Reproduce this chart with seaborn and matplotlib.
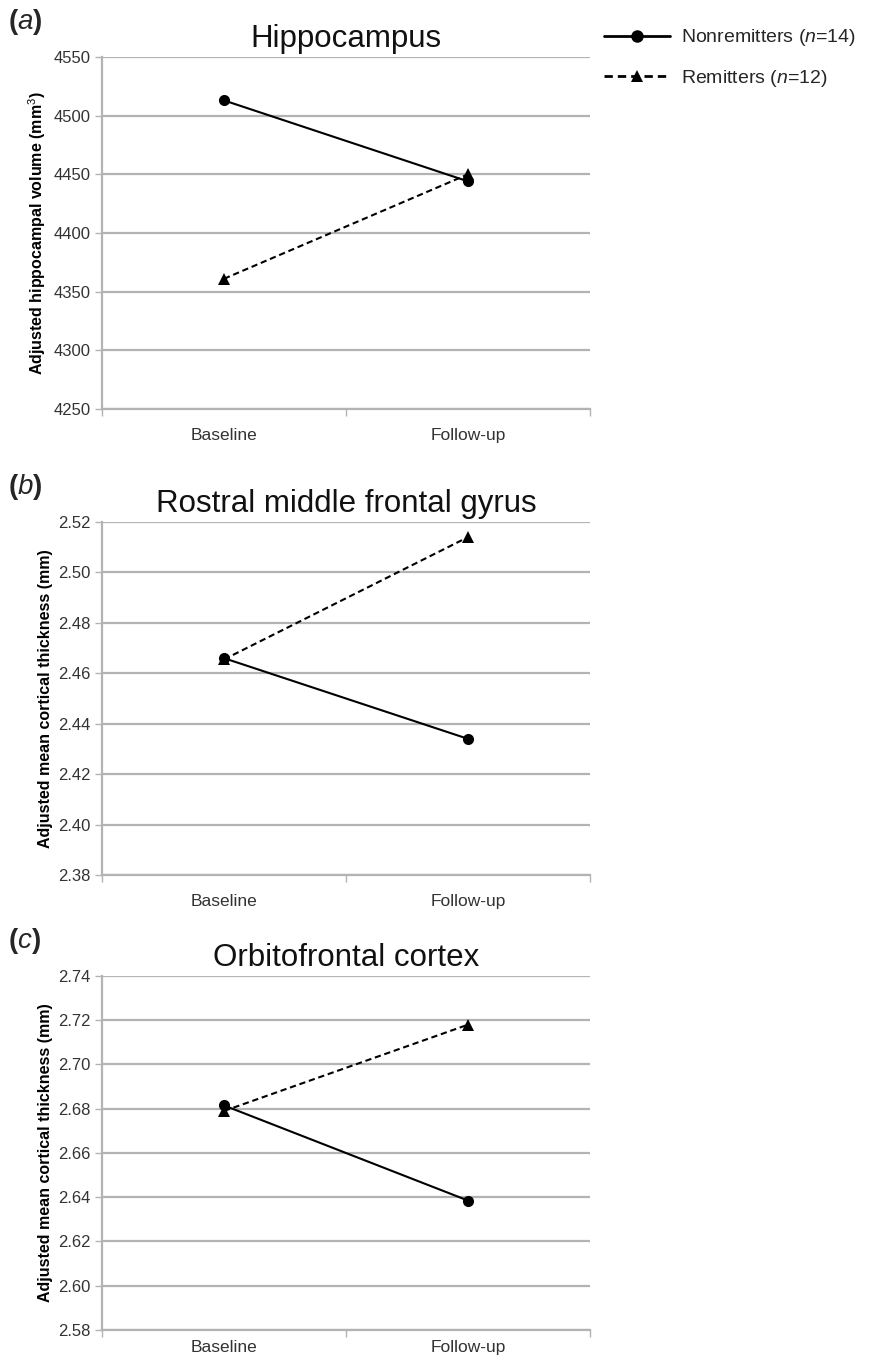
import matplotlib
matplotlib.use("Agg")
import matplotlib.pyplot as plt
import seaborn as sns
import pandas as pd
from matplotlib.ticker import FixedLocator, NullFormatter

sns.set_theme(style="white")
plt.rcParams['font.family'] = ['Liberation Sans', 'DejaVu Sans']
plt.rcParams['mathtext.fontset'] = 'custom'
plt.rcParams['mathtext.it'] = 'Liberation Sans:italic'
plt.rcParams['mathtext.bf'] = 'Liberation Sans:bold'
plt.rcParams['mathtext.rm'] = 'Liberation Sans'

# ---- data ----
timepoints = ["Baseline", "Follow-up"]
groups = ["Nonremitters", "Remitters"]
group_labels = ["Nonremitters ($\\it{n}$=14)", "Remitters ($\\it{n}$=12)"]

hippo_nonrem = [4513, 4444]
hippo_rem = [4361, 4450]
rmfg_nonrem = [2.466, 2.434]
rmfg_rem = [2.4655, 2.514]
ofc_nonrem = [2.6815, 2.6385]
ofc_rem = [2.679, 2.718]

panel_titles = ["Hippocampus", "Rostral middle frontal gyrus", "Orbitofrontal cortex"]
panel_letters = ["a", "b", "c"]
ylabels = ["Adjusted hippocampal volume (mm$^3$)",
           "Adjusted mean cortical thickness (mm)",
           "Adjusted mean cortical thickness (mm)"]
yticks_a = [4250, 4300, 4350, 4400, 4450, 4500, 4550]
yticks_b = [2.38, 2.40, 2.42, 2.44, 2.46, 2.48, 2.50, 2.52]
yticks_c = [2.58, 2.60, 2.62, 2.64, 2.66, 2.68, 2.70, 2.72, 2.74]
ytick_fmt = ["{:.0f}", "{:.2f}", "{:.2f}"]

panels = [(hippo_nonrem, hippo_rem, yticks_a),
          (rmfg_nonrem, rmfg_rem, yticks_b),
          (ofc_nonrem, ofc_rem, yticks_c)]

W, H = 872, 1361
fig = plt.figure(figsize=(W / 100, H / 100), dpi=100)

# axes boxes in pixel coordinates (left, top, right, bottom)
boxes = [(102, 57, 590, 409), (102, 522, 590, 875), (102, 976, 590, 1330)]
xpads = [14, 14, 7]

grid_col = "#b3b3b3"
text_col = "#333333"

handles = None
for i, ((nr, rm, yt), box) in enumerate(zip(panels, boxes)):
    l, t, r, b = box
    ax = fig.add_axes([l / W, 1 - b / H, (r - l) / W, (b - t) / H])
    df = pd.DataFrame({
        "time": timepoints * 2,
        "group": [groups[0]] * 2 + [groups[1]] * 2,
        "value": list(nr) + list(rm),
    })
    for yv in yt:
        ax.axhline(yv, color=grid_col, lw=1.6, zorder=0)
    sns.lineplot(data=df, x="time", y="value", hue="group", style="group",
                 palette={groups[0]: "black", groups[1]: "black"},
                 markers={groups[0]: "o", groups[1]: "^"},
                 dashes={groups[0]: "", groups[1]: (3, 1.8)},
                 markersize=8, linewidth=1.5, markeredgewidth=0,
                 sort=False, ax=ax, zorder=3)
    if handles is None:
        handles, _ = ax.get_legend_handles_labels()
    ax.get_legend().remove()

    ax.set_xlim(-0.5, 1.5)
    ax.set_ylim(yt[0], yt[-1])
    ax.set_yticks(yt)
    ax.set_yticklabels([ytick_fmt[i].format(v) for v in yt], fontsize=12, color=text_col)
    ax.xaxis.set_major_locator(FixedLocator([-0.5, 0.5, 1.5]))
    ax.xaxis.set_major_formatter(NullFormatter())
    ax.xaxis.set_minor_locator(FixedLocator([0, 1]))
    ax.set_xticklabels(timepoints, minor=True, fontsize=12.5, color=text_col)
    ax.tick_params(axis="x", which="major", length=5, width=1, color=grid_col, direction="out", bottom=True)
    ax.tick_params(axis="x", which="minor", length=0, pad=xpads[i], bottom=True)
    ax.tick_params(axis="y", length=5, width=1, color=grid_col, direction="out", left=True, pad=3)
    ax.set_xlabel("")
    ax.set_ylabel(ylabels[i], fontsize=11.5, fontweight="bold", color="black", labelpad=4)
    for s in ["top", "right"]:
        ax.spines[s].set_visible(False)
    for s in ["left", "bottom"]:
        ax.spines[s].set_color(grid_col)
        ax.spines[s].set_linewidth(1.6)
    ax.grid(False)

    ax.set_title(panel_titles[i], fontsize=22.5, color="#111111", pad=7)
    ax.annotate("($\\bf{\\it{" + panel_letters[i] + "}}$)", xy=(8 / W, 1 - (t - 20) / H),
                xycoords="figure fraction", fontsize=20, fontweight="bold", va="bottom", ha="left")

leg = fig.legend(handles, group_labels, loc="upper left",
                 bbox_to_anchor=(586 / W, 1 - 10 / H), frameon=False,
                 fontsize=14, handlelength=3.4, handletextpad=0.6,
                 labelspacing=1.0)
for h in leg.legend_handles:
    h.set_linewidth(2.0)
    h.set_markersize(9)

fig.savefig("out.png", dpi=100)
